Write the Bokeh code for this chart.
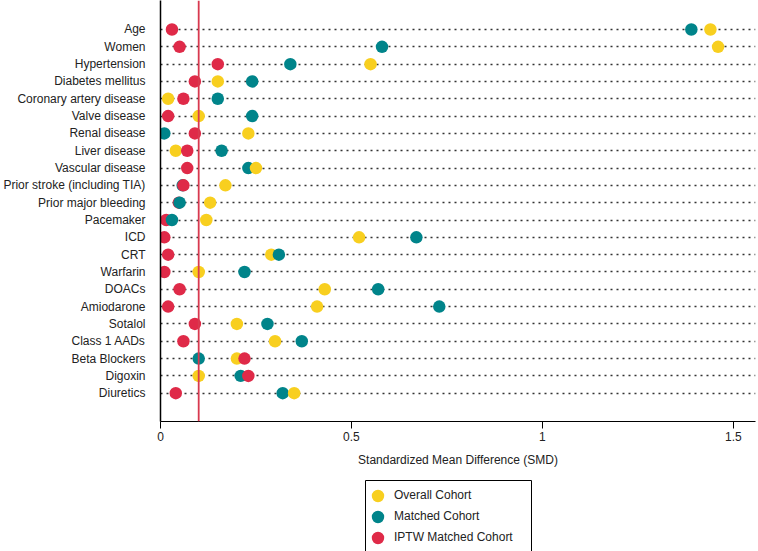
from bokeh.plotting import figure
from bokeh.layouts import column
from bokeh.models import (Range1d, FixedTicker, Span, Legend, LegendItem, ColumnDataSource,
                          BoxAnnotation)
from bokeh.embed import file_html
from bokeh.resources import INLINE

variables = ["Age", "Women", "Hypertension", "Diabetes mellitus", "Coronary artery disease",
             "Valve disease", "Renal disease", "Liver disease", "Vascular disease",
             "Prior stroke (including TIA)", "Prior major bleeding", "Pacemaker", "ICD", "CRT",
             "Warfarin", "DOACs", "Amiodarone", "Sotalol", "Class 1 AADs", "Beta Blockers",
             "Digoxin", "Diuretics"]
overall = [1.44, 1.46, 0.55, 0.15, 0.02, 0.10, 0.23, 0.04, 0.25, 0.17, 0.13, 0.12,
           0.52, 0.29, 0.10, 0.43, 0.41, 0.20, 0.30, 0.20, 0.10, 0.35]
matched = [1.39, 0.58, 0.34, 0.24, 0.15, 0.24, 0.01, 0.16, 0.23, 0.058, 0.05, 0.03,
           0.67, 0.31, 0.22, 0.57, 0.73, 0.28, 0.37, 0.10, 0.21, 0.32]
iptw = [0.03, 0.05, 0.15, 0.09, 0.06, 0.02, 0.09, 0.07, 0.07, 0.06, 0.048, 0.015,
        0.01, 0.02, 0.01, 0.05, 0.02, 0.09, 0.06, 0.22, 0.23, 0.04]
series_names = ["Overall Cohort", "Matched Cohort", "IPTW Matched Cohort"]
series_colors = ["#F8CF1F", "#00848A", "#DF2A48"]
x_ticks = [0, 0.5, 1, 1.5]
x_tick_labels = ["0", "0.5", "1", "1.5"]
threshold = 0.1

n = len(variables)
ypos = [n - i for i in range(n)]
all_series = [overall, matched, iptw]

# combine and sort so that right-most points are drawn on top
pts = []
for s, (vals, col) in enumerate(zip(all_series, series_colors)):
    for i, v in enumerate(vals):
        pts.append((v, ypos[i], col, s))
pts.sort(key=lambda t: t[0])
src = ColumnDataSource(dict(x=[q[0] for q in pts], y=[q[1] for q in pts],
                            c=[q[2] for q in pts], s=[q[3] for q in pts]))

FONT = "Liberation Sans"
TXT = "#222222"
p = figure(width=758, height=470, output_backend="svg", toolbar_location=None,
           x_range=Range1d(0, 1.558), y_range=Range1d(-0.634, n + 1.674),
           min_border_left=152, min_border_right=3, min_border_top=0, min_border_bottom=49)
p.outline_line_color = None
p.xgrid.grid_line_color = None
p.ygrid.ticker = FixedTicker(ticks=ypos)
p.ygrid.grid_line_color = "#333333"
p.ygrid.grid_line_dash = "2 4"
p.ygrid.grid_line_width = 1.5

p.add_layout(Span(location=threshold, dimension="height", line_color="#D8394F", line_width=1.8))

p.scatter("x", "y", source=src, size=12.5, fill_color="c", line_color="c", line_width=0)

# y axis
p.yaxis.ticker = FixedTicker(ticks=ypos)
p.yaxis.major_label_overrides = {y: v for y, v in zip(ypos, variables)}
p.yaxis.major_tick_line_color = None
p.yaxis.minor_tick_line_color = None
p.yaxis.axis_line_color = "black"
p.yaxis.axis_line_width = 1.5
p.yaxis.major_label_text_font = FONT
p.yaxis.major_label_text_font_size = "12px"
p.yaxis.major_label_text_color = TXT
p.yaxis.major_label_standoff = 9

# x axis
p.xaxis.ticker = FixedTicker(ticks=x_ticks)
p.xaxis.major_label_overrides = {t: l for t, l in zip(x_ticks, x_tick_labels)}
p.xaxis.minor_tick_line_color = None
p.xaxis.major_tick_in = 0
p.xaxis.major_tick_out = 7
p.xaxis.major_tick_line_color = "black"
p.xaxis.axis_line_color = "black"
p.xaxis.axis_line_width = 1.2
p.xaxis.major_label_text_font = FONT
p.xaxis.major_label_text_font_size = "12px"
p.xaxis.major_label_text_color = TXT
p.xaxis.major_label_standoff = 3
p.xaxis.axis_label = "Standardized Mean Difference (SMD)"
p.xaxis.axis_label_text_font = FONT
p.xaxis.axis_label_text_font_style = "normal"
p.xaxis.axis_label_text_font_size = "12px"
p.xaxis.axis_label_text_color = TXT
p.xaxis.axis_label_standoff = 9

# legend strip under the plot (clipped at the bottom like the original)
lg = figure(width=758, height=81, output_backend="svg", toolbar_location=None,
            x_range=Range1d(0, 1), y_range=Range1d(0, 1),
            x_axis_type=None, y_axis_type=None,
            min_border_left=0, min_border_right=0, min_border_top=0, min_border_bottom=0)
lg.outline_line_color = None
lg.add_layout(BoxAnnotation(left=365, right=531, top=10, bottom=95,
                            left_units="canvas", right_units="canvas",
                            top_units="canvas", bottom_units="canvas",
                            fill_alpha=0, line_color="black", line_width=1, line_alpha=1))
legend_y = [40.5, 19.5, -1.5]
for name, vals, col, ly in zip(series_names, all_series, series_colors, legend_y):
    rr = lg.scatter(x=[vals[0]], y=[0.5], size=12.5, fill_color=col, line_color=col, line_width=0)
    rr.visible = False
    leg = Legend(items=[LegendItem(label=name, renderers=[rr])], location=(202, ly),
                 border_line_color=None, background_fill_alpha=0,
                 label_text_font=FONT, label_text_font_size="12px", label_text_color=TXT,
                 glyph_height=31, glyph_width=31, spacing=0, padding=0, margin=0,
                 label_standoff=1)
    lg.add_layout(leg, "center")

layout = column(p, lg, spacing=0)
open("out.html", "w").write(file_html(layout, INLINE))
